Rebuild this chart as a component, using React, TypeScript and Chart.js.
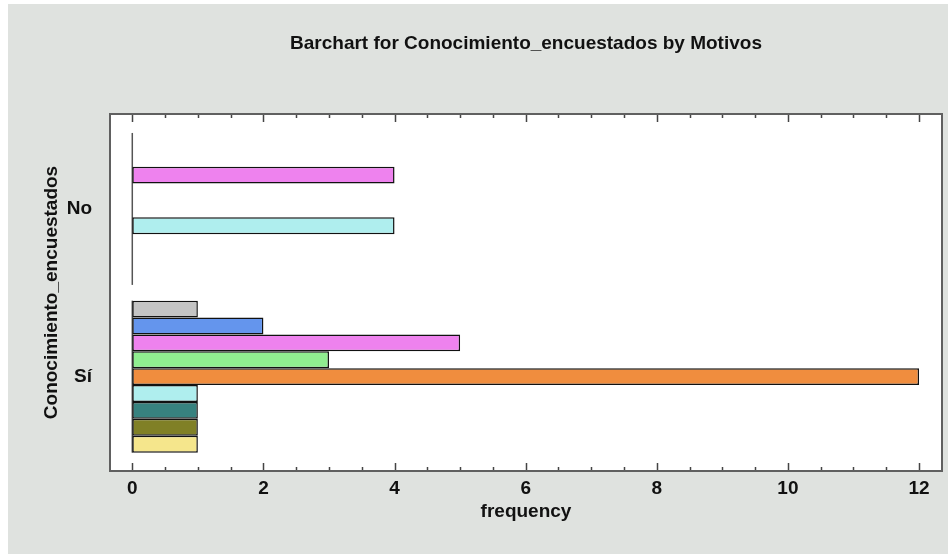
import React, { useEffect, useRef } from "react";
import { Chart, registerables } from "chart.js";

Chart.register(...registerables);

// Response groups (bottom to top) and their positions on the index axis
const categories = ["Sí", "No"];
const categoryPositions = [0, 1];

// Motivos, listed from the top bar of each group to the bottom one
const motivos = [
  "Motivo 1",
  "Motivo 2",
  "Motivo 3",
  "Motivo 4",
  "Motivo 5",
  "Motivo 6",
  "Motivo 7",
  "Motivo 8",
  "Motivo 9",
];
const motivoColors = [
  "#c4c4c4",
  "#6495ed",
  "#ee82ee",
  "#90ee90",
  "#f08d3e",
  "#afeeee",
  "#37827f",
  "#808026",
  "#f5e68c",
];
const siFrequencies = [1, 2, 5, 3, 12, 1, 1, 1, 1];
const noFrequencies = [0, 0, 4, 0, 0, 4, 0, 0, 0];

const xTickValues = [0, 2, 4, 6, 8, 10, 12];

const GROUP_FRACTION = 0.906;
const FONT = "'Liberation Sans', Arial, sans-serif";
const TEXT = "#111111";

const framePlugin = {
  id: "frame",
  beforeDraw(chart: any) {
    const { ctx, chartArea, width, height } = chart;
    ctx.save();
    ctx.fillStyle = "#dfe2df";
    ctx.fillRect(0, 0, width, height);
    ctx.fillStyle = "#ffffff";
    ctx.fillRect(
      chartArea.left,
      chartArea.top,
      chartArea.right - chartArea.left,
      chartArea.bottom - chartArea.top
    );
    ctx.restore();
  },
  beforeDatasetsDraw(chart: any) {
    // baseline at zero across each group
    const { ctx } = chart;
    const xs = chart.scales.x;
    const ys = chart.scales.y;
    const step = Math.abs(
      ys.getPixelForValue(categoryPositions[1]) - ys.getPixelForValue(categoryPositions[0])
    );
    const half = (step * GROUP_FRACTION) / 2;
    const x0 = xs.getPixelForValue(0);
    ctx.save();
    ctx.strokeStyle = "#555555";
    ctx.lineWidth = 1.5;
    categoryPositions.forEach((p) => {
      const yc = ys.getPixelForValue(p);
      ctx.beginPath();
      ctx.moveTo(x0, yc - half);
      ctx.lineTo(x0, yc + half);
      ctx.stroke();
    });
    ctx.restore();
  },
  afterDatasetsDraw(chart: any) {
    const { ctx, chartArea } = chart;
    const xs = chart.scales.x;
    ctx.save();
    // inward tick marks on the bottom and top edges
    ctx.strokeStyle = "#444444";
    ctx.lineWidth = 1.5;
    for (let k = 0; k <= 24; k++) {
      const v = k * 0.5;
      const px = Math.round(xs.getPixelForValue(v)) + 0.5;
      const len = k % 4 === 0 ? 8 : 4;
      ctx.beginPath();
      ctx.moveTo(px, chartArea.bottom);
      ctx.lineTo(px, chartArea.bottom - len);
      ctx.moveTo(px, chartArea.top);
      ctx.lineTo(px, chartArea.top + len);
      ctx.stroke();
    }
    // plot frame
    ctx.strokeStyle = "#606060";
    ctx.lineWidth = 2;
    ctx.strokeRect(
      chartArea.left,
      chartArea.top,
      chartArea.right - chartArea.left,
      chartArea.bottom - chartArea.top
    );
    ctx.restore();
  },
};

export default function App() {
  const canvasRef = useRef<HTMLCanvasElement | null>(null);

  useEffect(() => {
    if (!canvasRef.current) return;
    const datasets = motivos.map((name, i) => ({
      label: name,
      data: [
        { x: siFrequencies[i], y: categoryPositions[0] },
        { x: noFrequencies[i], y: categoryPositions[1] },
      ],
      backgroundColor: motivoColors[i],
      borderColor: "#111111",
      borderWidth: 1.5,
      borderSkipped: false,
      categoryPercentage: GROUP_FRACTION,
      barPercentage: 1,
    }));

    const chart = new Chart(canvasRef.current, {
      type: "bar",
      data: { datasets },
      plugins: [framePlugin],
      options: {
        indexAxis: "y",
        animation: false,
        responsive: false,
        maintainAspectRatio: false,
        layout: { padding: { top: 0, right: 6, bottom: 0, left: 0 } },
        plugins: {
          legend: { display: false },
          tooltip: { enabled: false },
          title: {
            display: true,
            fullSize: false,
            text: "Barchart for Conocimiento_encuestados by Motivos",
            color: TEXT,
            font: { family: FONT, size: 19, weight: "bold" },
            padding: { top: 28.6, bottom: 58.6 },
          },
        },
        scales: {
          x: {
            type: "linear",
            min: -0.34,
            max: 12.35,
            offset: false,
            grid: { display: false, drawTicks: false },
            border: { display: false },
            ticks: {
              stepSize: 2,
              includeBounds: false,
              autoSkip: false,
              maxRotation: 0,
              padding: 6,
              color: TEXT,
              font: { family: FONT, size: 19, weight: "bold" },
              callback: (v: any) => (xTickValues.includes(Number(v)) ? String(v) : ""),
            },
            title: {
              display: true,
              text: "frequency",
              color: TEXT,
              font: { family: FONT, size: 19, weight: "bold" },
              padding: { top: 0, bottom: 30.6 },
            },
            afterFit: (scale: any) => {
              scale.height = 83;
            },
          },
          y: {
            type: "linear",
            min: -0.5625,
            max: 1.566,
            offset: false,
            grid: { display: false, drawTicks: false, offset: false },
            border: { display: false },
            ticks: {
              stepSize: 1,
              includeBounds: false,
              autoSkip: false,
              padding: 18,
              color: TEXT,
              font: { family: FONT, size: 19, weight: "bold" },
              callback: (v: any) => {
                const idx = categoryPositions.indexOf(Number(v));
                return idx >= 0 ? categories[idx] : "";
              },
            },
            title: {
              display: true,
              text: "Conocimiento_encuestados",
              color: TEXT,
              font: { family: FONT, size: 19, weight: "bold" },
              padding: { top: 32.6, bottom: 0 },
            },
            afterFit: (scale: any) => {
              scale.width = 102;
            },
          },
        },
      },
    });
    return () => chart.destroy();
  }, []);

  return (
    <div style={{ position: "absolute", left: 8, top: 4, width: 940, height: 550 }}>
      <canvas ref={canvasRef} width={940} height={550} style={{ display: "block" }} />
    </div>
  );
}
